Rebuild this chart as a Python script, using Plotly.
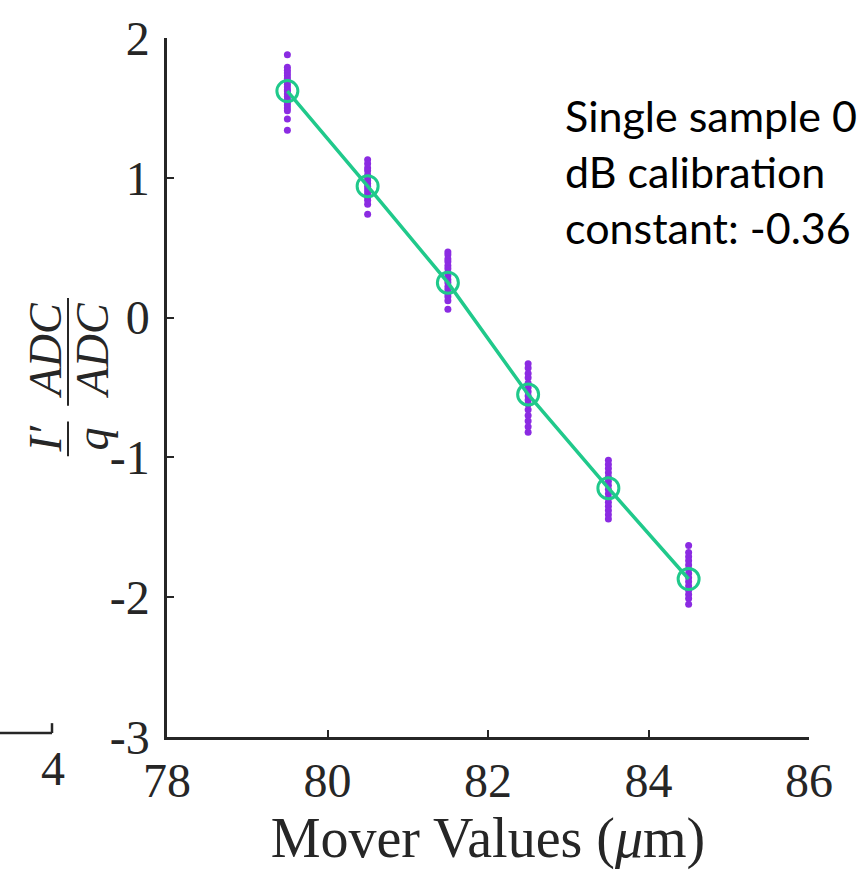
import plotly.graph_objects as go

# ---- data ----
mover_values = [79.5, 80.5, 81.5, 82.5, 83.5, 84.5]
mean_values = [1.62, 0.94, 0.25, -0.55, -1.22, -1.87]
samples = [
    [1.88, 1.79, 1.77, 1.75, 1.73, 1.71, 1.69, 1.67, 1.65, 1.63, 1.62, 1.60, 1.58, 1.56, 1.54, 1.52, 1.50, 1.48, 1.42, 1.34],
    [1.13, 1.10, 1.07, 1.05, 1.02, 1.00, 0.98, 0.96, 0.94, 0.92, 0.90, 0.88, 0.86, 0.84, 0.81, 0.74],
    [0.47, 0.45, 0.42, 0.40, 0.37, 0.35, 0.32, 0.30, 0.27, 0.25, 0.22, 0.20, 0.17, 0.15, 0.12, 0.06],
    [-0.33, -0.36, -0.40, -0.43, -0.47, -0.50, -0.53, -0.56, -0.59, -0.62, -0.66, -0.70, -0.74, -0.78, -0.82],
    [-1.02, -1.05, -1.08, -1.11, -1.14, -1.17, -1.20, -1.23, -1.26, -1.29, -1.32, -1.35, -1.38, -1.41, -1.44],
    [-1.63, -1.68, -1.71, -1.74, -1.77, -1.80, -1.83, -1.86, -1.89, -1.92, -1.95, -1.98, -2.01, -2.05],
]
x_ticks = [78, 80, 82, 84, 86]
y_ticks = [-3, -2, -1, 0, 1, 2]
note_lines = ["Single sample 0", "dB calibration", "constant: -0.36"]

PURPLE = "#8B2BE2"
GREEN = "#20C98B"
AXIS = "#262626"
SERIF = "Liberation Serif, DejaVu Serif, serif"

fig = go.Figure()

px, py = [], []
for xv, vals in zip(mover_values, samples):
    px += [xv] * len(vals)
    py += vals
fig.add_trace(go.Scatter(x=px, y=py, mode="markers",
                         marker=dict(color=PURPLE, size=7, line=dict(width=0)),
                         showlegend=False, hoverinfo="skip"))
fig.add_trace(go.Scatter(x=mover_values, y=mean_values, mode="lines+markers",
                         line=dict(color=GREEN, width=3.5),
                         marker=dict(symbol="circle-open", size=21, color=GREEN, line=dict(width=3)),
                         showlegend=False))

W, H = 861, 870
L, R, T, B = 167, 52, 30, 133
pw, ph = W - L - R, H - T - B

def pxx(v):
    return (v - L) / pw

def pyy(v):
    return (H - B - v) / ph

fig.update_layout(
    width=W, height=H,
    margin=dict(l=L, r=R, t=T, b=B, pad=0),
    paper_bgcolor="white", plot_bgcolor="white",
    font=dict(family=SERIF, color=AXIS, size=30),
    xaxis=dict(range=[78, 86], tickvals=x_ticks, ticktext=[str(v) for v in x_ticks],
               showgrid=False, zeroline=False, showline=True, linecolor=AXIS, linewidth=2.5,
               ticks="inside", ticklen=7, tickwidth=2, tickcolor=AXIS,
               ticklabelstandoff=0,
               tickfont=dict(family=SERIF, size=48, color=AXIS),
               title=dict(text="Mover Values (<i>μ</i>m)", font=dict(family=SERIF, size=56, color=AXIS), standoff=9)),
    yaxis=dict(range=[-3, 2], tickvals=y_ticks, ticktext=[str(v) for v in y_ticks],
               showgrid=False, zeroline=False, showline=True, linecolor=AXIS, linewidth=2.5,
               ticks="inside", ticklen=7, tickwidth=2, tickcolor=AXIS,
               ticklabelstandoff=5,
               tickfont=dict(family=SERIF, size=48, color=AXIS)),
)

# y-axis label: fraction-like rendering of I'/q · ADC/ADC
annos = [
    dict(text="<i>I′</i>", x=pxx(45), y=pyy(436), textangle=-90),
    dict(text="<i>ADC</i>", x=pxx(45), y=pyy(346), textangle=-90),
    dict(text="<i>q</i>", x=pxx(92), y=pyy(436), textangle=-90),
    dict(text="<i>ADC</i>", x=pxx(92), y=pyy(346), textangle=-90),
]
for a in annos:
    fig.add_annotation(xref="paper", yref="paper", showarrow=False,
                       font=dict(family=SERIF, size=46, color=AXIS),
                       xanchor="center", yanchor="middle", **a)
fig.add_shape(type="line", xref="paper", yref="paper", x0=pxx(68), x1=pxx(68), y0=pyy(453), y1=pyy(418),
              line=dict(color=AXIS, width=2))
fig.add_shape(type="line", xref="paper", yref="paper", x0=pxx(68), x1=pxx(68), y0=pyy(402), y1=pyy(293),
              line=dict(color=AXIS, width=2))

# remnant of neighbouring panel at left
fig.add_shape(type="line", xref="paper", yref="paper", x0=pxx(0), x1=pxx(52), y0=pyy(733), y1=pyy(733),
              line=dict(color=AXIS, width=2.5))
fig.add_shape(type="line", xref="paper", yref="paper", x0=pxx(52), x1=pxx(52), y0=pyy(733), y1=pyy(723),
              line=dict(color=AXIS, width=2.5))
fig.add_annotation(xref="paper", yref="paper", showarrow=False, text="4", x=pxx(53), y=pyy(769),
                   xanchor="center", yanchor="middle", font=dict(family=SERIF, size=48, color=AXIS))

# note text
fig.add_annotation(xref="paper", yref="paper", showarrow=False, text="<br>".join(note_lines),
                   x=pxx(563), y=pyy(80.5), xanchor="left", yanchor="top", align="left",
                   font=dict(family="Lato, Liberation Sans, sans-serif", size=43, color="black"))

fig.write_html("out.html")
